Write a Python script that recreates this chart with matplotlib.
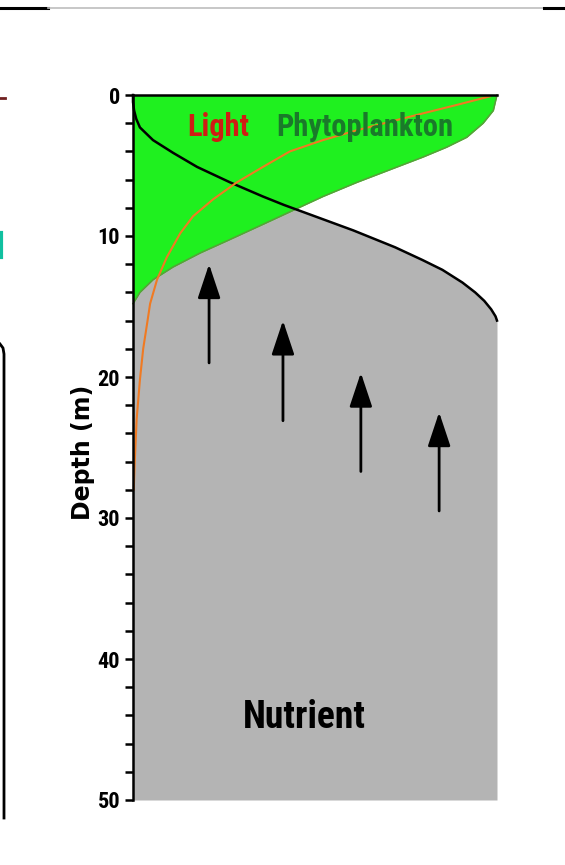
import matplotlib
matplotlib.use("Agg")
import matplotlib.pyplot as plt
from matplotlib import font_manager as fm
from matplotlib.lines import Line2D
from matplotlib.ticker import MultipleLocator

# --- Data (relative concentration 0..1 vs depth in m) ---
nut_depth = [0, 0.5, 1.1, 1.7, 2.3, 3.2, 4.1, 5.1, 6.2, 7.2, 7.8, 8.7, 9.6, 10.8,
             11.7, 12.4, 13.3, 14.0, 14.6, 15.2, 15.7, 16.0, 50]
nutrient = [0, 0.0, 0.003, 0.009, 0.019, 0.055, 0.11, 0.176, 0.267, 0.357, 0.415,
            0.51, 0.605, 0.72, 0.795, 0.85, 0.905, 0.94, 0.965, 0.984, 0.996,
            1.0, 1.0]

phy_depth = [0, 1.1, 2.0, 3.0, 3.7, 4.4, 5.3, 6.2, 7.2, 8.0, 8.6, 9.4, 10.3,
             11.2, 12.2, 13.1, 14.0, 14.8]
phyto = [1.0, 0.99, 0.962, 0.917, 0.862, 0.797, 0.706, 0.615, 0.522, 0.455, 0.405,
         0.338, 0.262, 0.185, 0.11, 0.055, 0.019, 0.0]

light_depth = [0.1, 0.7, 1.3, 1.9, 2.5, 3.2, 4.0, 5.1, 6.2, 7.4, 8.6, 9.8, 11.5,
               13.1, 14.8, 16.0, 18.0, 20.2, 23.0, 25.9, 28.0]
light = [0.98, 0.89, 0.797, 0.706, 0.615, 0.522, 0.431, 0.357, 0.285, 0.22, 0.165,
         0.13, 0.093, 0.066, 0.047, 0.04, 0.028, 0.019, 0.01, 0.005, 0.002]

# upward nutrient flux arrows
arrow_x = [0.209, 0.412, 0.626, 0.841]
arrow_tip = [12.0, 16.0, 19.7, 22.5]
arrow_tail = [19.0, 23.1, 26.7, 29.5]


def narrow_bold():
    # pick a bold condensed face if the system has one
    cands = []
    for f in fm.fontManager.ttflist:
        fn = f.fname.lower()
        narrow = ("narrow" in fn or "condensed" in fn or "cond" in fn
                  or str(f.stretch) in ("condensed", "semi-condensed", "extra-condensed")
                  or (isinstance(f.stretch, int) and f.stretch < 500))
        bold = (isinstance(f.weight, int) and f.weight >= 600) or "bold" in str(f.weight).lower()
        if narrow and bold and "italic" not in fn and "oblique" not in fn:
            cands.append(f)
    prefer = ["Liberation Sans Narrow", "Roboto Condensed", "DejaVu Sans", "Open Sans",
              "Noto Sans", "Inter", "Lato"]
    for p in prefer:
        for f in cands:
            if f.name.startswith(p):
                return fm.FontProperties(fname=f.fname), True
    if cands:
        return fm.FontProperties(fname=cands[0].fname), True
    return fm.FontProperties(family="Liberation Sans", weight="bold"), False


FP, IS_NARROW = narrow_bold()
K = 1.0 if IS_NARROW else 0.82


def font(size):
    p = FP.copy()
    p.set_size(size * K)
    return p


fig = plt.figure(figsize=(5.65, 8.65), dpi=100)
ax = fig.add_axes([133 / 565, 1 - 800 / 865, 364 / 565, 705 / 865])

# --- Profiles ---
ax.fill_betweenx(nut_depth, 0, nutrient, color="#b4b4b4", lw=0, zorder=1)
ax.fill_betweenx(phy_depth, 0, phyto, color="#1ff01f", lw=0, zorder=2)
ax.plot(phyto, phy_depth, color="#5a9e3a", lw=1.1, zorder=3, clip_on=False)
n_top = [d for d in nut_depth if d <= 16]
ax.plot(nutrient[:len(n_top)], n_top, color="black", lw=1.8, zorder=4, clip_on=False)
ax.plot(light, light_depth, color="#f07a22", lw=1.5, zorder=5, clip_on=False)

for x, tip, tail in zip(arrow_x, arrow_tip, arrow_tail):
    ax.annotate("", xy=(x, tip), xytext=(x, tail),
                arrowprops=dict(arrowstyle="-|>,head_length=2.1,head_width=0.7",
                                color="black", lw=2, mutation_scale=10,
                                shrinkA=0, shrinkB=0),
                zorder=6)

ax.text(0.234, 2.9, "Light", color="#d01c14", fontproperties=font(22),
        ha="center", va="baseline", zorder=7)
ax.text(0.636, 2.9, "Phytoplankton", color="#1a7a2a", fontproperties=font(22),
        ha="center", va="baseline", zorder=7)
ax.text(0.471, 44.9, "Nutrient", color="black", fontproperties=font(27),
        ha="center", va="baseline", zorder=7)

# --- Axes styling ---
ax.set_xlim(0, 1)
ax.set_ylim(50, 0)
ax.set_facecolor("none")
for side in ["right", "bottom"]:
    ax.spines[side].set_visible(False)
for side in ["left", "top"]:
    ax.spines[side].set_linewidth(1.8)
    ax.spines[side].set_zorder(8)
ax.set_xticks([])
ax.yaxis.set_major_locator(MultipleLocator(10))
ax.yaxis.set_minor_locator(MultipleLocator(2))
ax.tick_params(axis="y", which="both", direction="out", length=5.8, width=1.8, pad=3.5)
for lbl in ax.get_yticklabels():
    lbl.set_fontproperties(font(16))

ax.set_ylabel("Depth (m)", fontsize=17, fontweight="bold")
ax.yaxis.set_label_coords(-0.105, 0.493)

# --- fragments of the neighbouring panel and page rules ---
W, H = 565, 865
def fline(xs, ys, **kw):
    fig.add_artist(Line2D([x / W for x in xs], [1 - y / H for y in ys],
                          transform=fig.transFigure, **kw))

fline([0, 48], [8, 8], color="black", lw=2.2)
fline([48, 544], [7.5, 7.5], color="#bdbdbd", lw=1.2)
fline([544, 565], [8, 8], color="black", lw=2.2)
fline([0, 5], [98, 98], color="#702020", lw=2)
fline([1, 1], [233, 257], color="#10c0a0", lw=3)
fline([0, 3, 4, 4], [344, 348, 354, 818], color="black", lw=2)

fig.savefig("out.png", dpi=100)
